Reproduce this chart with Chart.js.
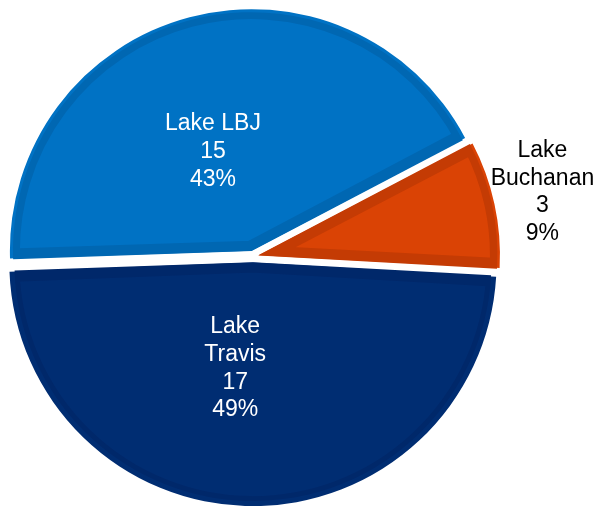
<!DOCTYPE html>
<html><head><meta charset="utf-8">
<script src="https://cdn.jsdelivr.net/npm/chart.js@4/dist/chart.umd.min.js"></script>
<style>html,body{margin:0;padding:0;background:#fff}#wrap{width:597px;height:506px}</style>
</head><body><div id="wrap"><canvas id="c" width="597" height="506"></canvas></div>
<script>
// ---- data ----
const categories = ['Lake Buchanan', 'Lake Travis', 'Lake LBJ'];
const labelLines = [['Lake', 'Buchanan'], ['Lake', 'Travis'], ['Lake LBJ']];
const values = [3, 17, 15];

// ---- styles ----
const fillColors = ['#DA4305', '#002D72', '#0072C4'];
const borderColors = ['#C43B04', '#00286A', '#0067B2'];
const labelColors = ['#000000', '#ffffff', '#ffffff'];
const labelRadial = [1.203, 0.445, 0.44];      // fraction of radius from slice apex
const labelAngleShift = [-0.3, 8.9, -6.4];     // degrees from slice mid-angle
const FONT_SIZE = 23, LINE_H = 27.6;

const total = values.reduce((a, b) => a + b, 0);

const labelPlugin = {
  id: 'sliceLabels',
  afterDatasetsDraw(chart) {
    const ctx = chart.ctx;
    const meta = chart.getDatasetMeta(0);
    ctx.save();
    ctx.font = FONT_SIZE + 'px "Liberation Sans", Arial, sans-serif';
    ctx.textAlign = 'center';
    ctx.textBaseline = 'middle';
    meta.data.forEach((arc, i) => {
      const p = arc.getProps(['x', 'y', 'startAngle', 'endAngle', 'outerRadius'], true);
      const mid = (p.startAngle + p.endAngle) / 2;
      const disp = (arc.options.offset || 0) / 4;
      const ax = p.x + Math.cos(mid) * disp;
      const ay = p.y + Math.sin(mid) * disp;
      const a = mid + labelAngleShift[i] * Math.PI / 180;
      const r = labelRadial[i] * (p.outerRadius + 3);
      const cx = ax + Math.cos(a) * r;
      const cy = ay + Math.sin(a) * r;
      const pct = Math.round(values[i] / total * 100) + '%';
      const lines = labelLines[i].concat([String(values[i]), pct]);
      ctx.fillStyle = labelColors[i];
      lines.forEach((t, k) => {
        ctx.fillText(t, cx, cy + (k - (lines.length - 1) / 2) * LINE_H);
      });
    });
    ctx.restore();
  }
};

new Chart(document.getElementById('c'), {
  type: 'pie',
  data: {
    labels: categories,
    datasets: [{
      data: values,
      backgroundColor: fillColors,
      borderColor: borderColors,
      borderWidth: 10,
      borderAlign: 'inner',
      borderJoinStyle: 'miter',
      offset: 24,
      hoverOffset: 0
    }]
  },
  options: {
    responsive: false,
    animation: false,
    rotation: 62.3,
    radius: 238.5,
    layout: { padding: { left: 8, right: 99, top: 10, bottom: 3 } },
    plugins: { legend: { display: false }, tooltip: { enabled: false } },
    events: []
  },
  plugins: [labelPlugin]
});
</script>
</body></html>
